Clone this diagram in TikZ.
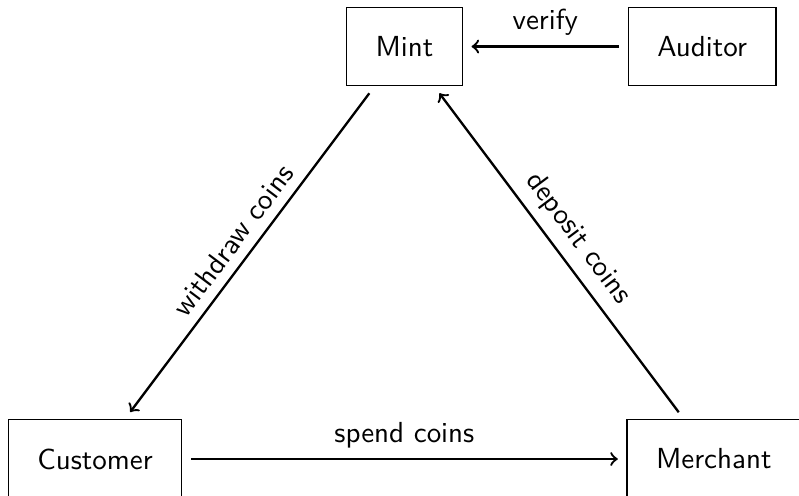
\documentclass[tikz,border=0pt]{standalone}
\usepackage{tikz}
\usetikzlibrary{
	positioning
}
\tikzset{
	party/.style={
		draw,
		inner sep=10pt
	},
	flow/.style={
		->,
		thick,
		shorten >=3pt,
		shorten <=3pt
	}
}

\begin{document}
\begin{tikzpicture}[ %%%%%%%% COIN FLOW
		every node/.style={
			font=\sffamily
		}
		]
		\useasboundingbox (-1.152,-0.448) rectangle (8.533,5.564);
		\node[party] (customer) at (0,0) {Customer};
		\node[party] (merchant) at (7.5,0) {Merchant};
		\node[party] (mint) at (3.75,5) {Mint};
		\node[party, right=2cm of mint] (auditor) {Auditor};
		\draw[flow] (mint) -- node[midway, above, sloped] {withdraw coins} (customer);
		\draw[flow] (customer) -- node[midway, above] {spend coins} (merchant);
		\draw[flow] (merchant) -- node[midway, above, sloped] {deposit coins} (mint);
		\draw[flow] (auditor) -- node[midway, above] {verify} (mint);
	\end{tikzpicture}
\end{document}
